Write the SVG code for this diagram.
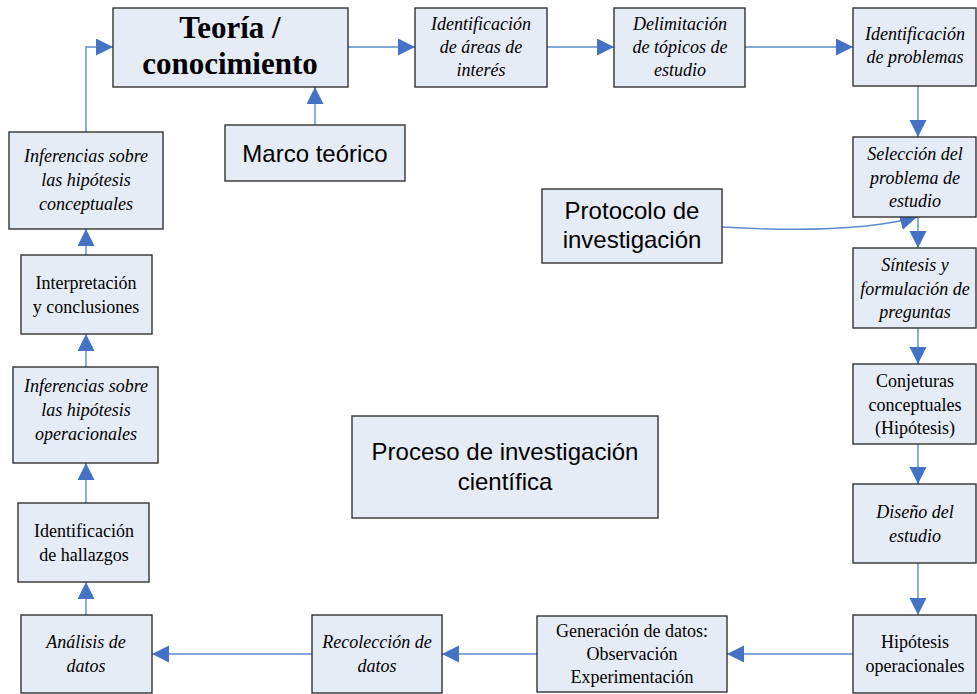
<svg xmlns="http://www.w3.org/2000/svg" width="977" height="694" viewBox="0 0 977 694">
<defs>
<marker id="ah" markerUnits="userSpaceOnUse" markerWidth="18" markerHeight="18" refX="17" refY="8.5" orient="auto" viewBox="0 0 18 18">
<path d="M0,0 L17,8.5 L0,17 z" fill="#4472C4"/>
</marker>
<style>
.box{fill:#E6ECF6;stroke:#333;stroke-width:1.4}
.t{font-family:"Liberation Serif","Times New Roman",serif;font-size:18px;fill:#000;text-anchor:middle}
.i{font-style:italic}
.s{font-family:"Liberation Sans",Arial,sans-serif;font-size:24px;fill:#000;text-anchor:middle}
.b{font-family:"Liberation Serif","Times New Roman",serif;font-size:31px;font-weight:bold;fill:#000;text-anchor:middle}
.c{fill:none;stroke:#5B8BD0;stroke-width:1.4;marker-end:url(#ah)}
</style>
</defs>
<rect width="977" height="694" fill="#fff"/>
<g id="connectors">
<path class="c" d="M348,47 H415"/>
<path class="c" d="M547,47 H614"/>
<path class="c" d="M745,47 H853"/>
<path class="c" d="M918,86 V137"/>
<path class="c" d="M918,217 V248"/>
<path class="c" d="M918,328 V364"/>
<path class="c" d="M918,444 V484"/>
<path class="c" d="M918,563 V615"/>
<path class="c" d="M853,654 H727"/>
<path class="c" d="M537,654 H442"/>
<path class="c" d="M312,654 H152"/>
<path class="c" d="M86,615 V582"/>
<path class="c" d="M86,503 V463"/>
<path class="c" d="M86,367 V334"/>
<path class="c" d="M86,255 V229"/>
<path class="c" d="M86,132 V47 H113"/>
<path class="c" d="M315,125 V87"/>
<path class="c" d="M722,227 C790,231 865,231 917,217"/>
</g>
<g id="teoria"><rect class="box" x="113" y="8" width="235" height="79"/>
<text class="b" x="230" y="38">Teoría /</text><text class="b" x="230" y="74">conocimiento</text></g>
<g id="marco"><rect class="box" x="225" y="125" width="180" height="56"/>
<text class="s" x="315" y="162">Marco teórico</text></g>
<g id="areas"><rect class="box" x="415" y="8" width="132" height="79"/>
<text class="t i" x="481" y="30">Identificación</text><text class="t i" x="481" y="53">de áreas de</text><text class="t i" x="481" y="76">interés</text></g>
<g id="delimitacion"><rect class="box" x="614" y="8" width="131" height="79"/>
<text class="t i" x="680" y="30">Delimitación</text><text class="t i" x="680" y="53">de tópicos de</text><text class="t i" x="680" y="76">estudio</text></g>
<g id="problemas"><rect class="box" x="853" y="8" width="123" height="78"/>
<text class="t i" x="915" y="40">Identificación</text><text class="t i" x="915" y="63">de problemas</text></g>
<g id="seleccion"><rect class="box" x="853" y="137" width="123" height="80"/>
<text class="t i" x="915" y="160">Selección del</text><text class="t i" x="915" y="184">problema de</text><text class="t i" x="915" y="207">estudio</text></g>
<g id="protocolo"><rect class="box" x="542" y="189" width="180" height="74"/>
<text class="s" x="632" y="219">Protocolo de</text><text class="s" x="632" y="248">investigación</text></g>
<g id="sintesis"><rect class="box" x="853" y="248" width="123" height="80"/>
<text class="t i" x="915" y="271">Síntesis y</text><text class="t i" x="915" y="295">formulación de</text><text class="t i" x="915" y="318">preguntas</text></g>
<g id="conjeturas"><rect class="box" x="853" y="364" width="123" height="80"/>
<text class="t" x="915" y="387">Conjeturas</text><text class="t" x="915" y="411">conceptuales</text><text class="t" x="915" y="434">(Hipótesis)</text></g>
<g id="diseno"><rect class="box" x="853" y="484" width="123" height="79"/>
<text class="t i" x="915" y="518">Diseño del</text><text class="t i" x="915" y="542">estudio</text></g>
<g id="hipop"><rect class="box" x="853" y="615" width="123" height="78"/>
<text class="t" x="915" y="648">Hipótesis</text><text class="t" x="915" y="672">operacionales</text></g>
<g id="generacion"><rect class="box" x="537" y="616" width="190" height="76"/>
<text class="t" x="632" y="637">Generación de datos:</text><text class="t" x="632" y="660">Observación</text><text class="t" x="632" y="683">Experimentación</text></g>
<g id="recoleccion"><rect class="box" x="312" y="615" width="130" height="78"/>
<text class="t i" x="377" y="648">Recolección de</text><text class="t i" x="377" y="672">datos</text></g>
<g id="analisis"><rect class="box" x="21" y="615" width="131" height="78"/>
<text class="t i" x="86" y="648">Análisis de</text><text class="t i" x="86" y="672">datos</text></g>
<g id="hallazgos"><rect class="box" x="18" y="503" width="131" height="79"/>
<text class="t" x="84" y="537">Identificación</text><text class="t" x="84" y="561">de hallazgos</text></g>
<g id="infop"><rect class="box" x="13" y="367" width="145" height="96"/>
<text class="t i" x="86" y="392">Inferencias sobre</text><text class="t i" x="86" y="416">las hipótesis</text><text class="t i" x="86" y="440">operacionales</text></g>
<g id="interpretacion"><rect class="box" x="21" y="255" width="131" height="79"/>
<text class="t" x="86" y="289">Interpretación</text><text class="t" x="86" y="313">y conclusiones</text></g>
<g id="infconc"><rect class="box" x="9" y="132" width="154" height="97"/>
<text class="t i" x="86" y="162">Inferencias sobre</text><text class="t i" x="86" y="186">las hipótesis</text><text class="t i" x="86" y="210">conceptuales</text></g>
<g id="proceso"><rect class="box" x="352" y="416" width="306" height="102"/>
<text class="s" x="505" y="460">Proceso de investigación</text><text class="s" x="505" y="490">científica</text></g>
</svg>
